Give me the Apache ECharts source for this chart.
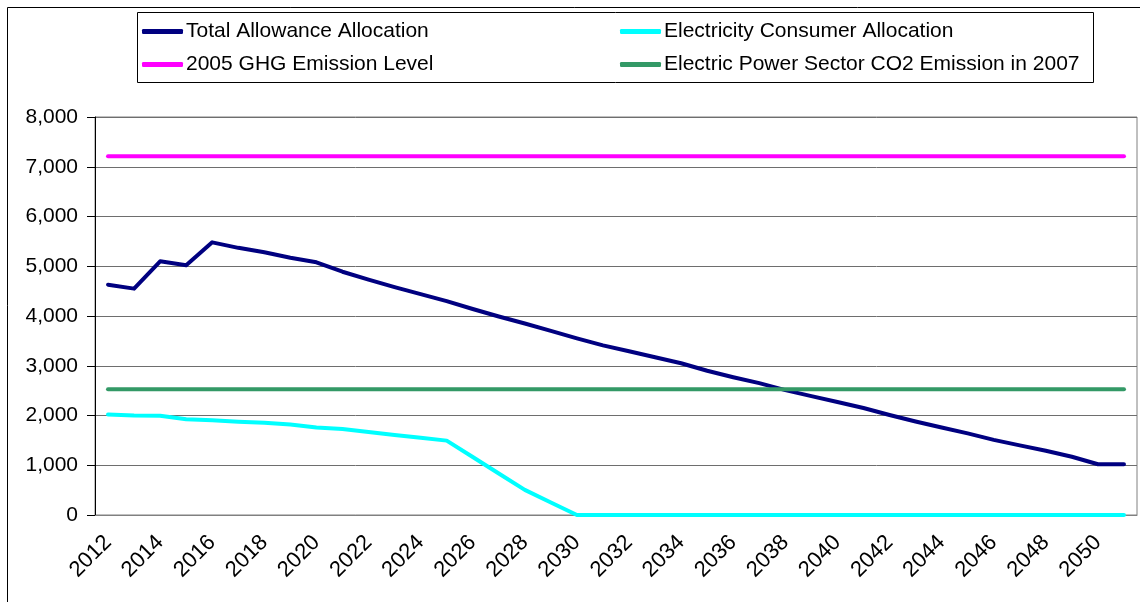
<!DOCTYPE html>
<html>
<head>
<meta charset="utf-8">
<script src="https://cdn.jsdelivr.net/npm/echarts@6/dist/echarts.min.js"></script>
<style>
  html, body { margin: 0; padding: 0; background: #fff; }
  #chart { width: 1140px; height: 602px; }
</style>
</head>
<body>
<div id="chart"></div>
<script>
// Years on the horizontal axis
const years = [];
for (let y = 2012; y <= 2051; y++) years.push(String(y));

// Total allowance allocation (million metric tons CO2e)
const totalAllowance = [
  4630, 4550, 5100, 5020, 5480, 5370, 5280, 5170, 5080, 4890,
  4730, 4580, 4440, 4300, 4140, 3990, 3850, 3700, 3550, 3410,
  3290, 3170, 3050, 2900, 2770, 2650, 2510, 2390, 2270, 2150,
  2010, 1880, 1760, 1640, 1510, 1400, 1290, 1170, 1020, 1020
];

// Allocation to electricity consumers
const electricityConsumer = [
  2020, 2000, 1995, 1925, 1905, 1875, 1855, 1820, 1760, 1730,
  1670, 1610, 1555, 1495, 1165, 835, 505, 250, 0, 0,
  0, 0, 0, 0, 0, 0, 0, 0, 0, 0,
  0, 0, 0, 0, 0, 0, 0, 0, 0, 0
];

// Reference levels held flat across the period
const ghg2005Level = 7210;
const powerSector2007 = 2530;

const yTicks = [0, 1000, 2000, 3000, 4000, 5000, 6000, 7000, 8000];

const FONT = "'Liberation Sans', Arial, sans-serif";

const seriesNames = [
  'Total Allowance Allocation',
  'Electricity Consumer Allocation',
  '2005 GHG Emission Level',
  'Electric Power Sector CO2 Emission in 2007'
];
const seriesColors = ['#000080', '#00ffff', '#ff00ff', '#339966'];
const seriesData = [
  totalAllowance,
  electricityConsumer,
  years.map(() => ghg2005Level),
  years.map(() => powerSector2007)
];

const chart = echarts.init(document.getElementById('chart'), null, { renderer: 'canvas' });

function legendAt(name, left, top) {
  return {
    data: [name],
    left: left,
    top: top,
    padding: 0,
    itemWidth: 41,
    itemHeight: 5,
    itemGap: 0,
    icon: 'roundRect',
    selectedMode: false,
    textStyle: { fontFamily: FONT, fontSize: 21, color: '#000', padding: [0, 0, 0, -2] }
  };
}

chart.setOption({
  animation: false,
  backgroundColor: '#fff',
  graphic: [
    {
      type: 'rect',
      shape: { x: 7.5, y: 7.5, width: 1200, height: 700 },
      style: { fill: 'none', stroke: '#000', lineWidth: 1 },
      silent: true
    },
    {
      type: 'rect',
      shape: { x: 137.5, y: 12.5, width: 956, height: 70 },
      style: { fill: '#fff', stroke: '#000', lineWidth: 1 },
      z: -1,
      silent: true
    }
  ],
  legend: [
    legendAt(seriesNames[0], 142, 21),
    legendAt(seriesNames[2], 142, 54),
    legendAt(seriesNames[1], 620, 21),
    legendAt(seriesNames[3], 620, 54)
  ],
  grid: {
    left: 95, top: 117, right: 3, bottom: 87,
    show: true, borderColor: '#808080', borderWidth: 1, backgroundColor: '#fff'
  },
  xAxis: {
    type: 'category',
    data: years,
    boundaryGap: true,
    axisLine: { show: true, lineStyle: { color: '#808080', width: 1 } },
    axisTick: { show: false },
    axisLabel: {
      interval: 1,
      rotate: 45,
      margin: 24,
      fontFamily: FONT,
      fontSize: 22,
      color: '#000'
    },
    splitLine: { show: false }
  },
  yAxis: {
    type: 'value',
    min: yTicks[0],
    max: yTicks[yTicks.length - 1],
    interval: 1000,
    axisLine: { show: true, lineStyle: { color: '#000', width: 1 } },
    axisTick: { show: true, length: 8, lineStyle: { color: '#000' } },
    axisLabel: {
      margin: 17,
      fontFamily: FONT,
      fontSize: 21,
      color: '#000',
      formatter: v => v.toLocaleString('en-US')
    },
    splitLine: { show: true, lineStyle: { color: '#6e6e6e', width: 1 } }
  },
  series: seriesNames.map((name, i) => ({
    name: name,
    type: 'line',
    data: seriesData[i],
    showSymbol: false,
    symbol: 'none',
    color: seriesColors[i],
    lineStyle: { color: seriesColors[i], width: 4, cap: 'round', join: 'round' },
    itemStyle: { color: seriesColors[i] },
    z: 2 + i
  }))
});
</script>
</body>
</html>
